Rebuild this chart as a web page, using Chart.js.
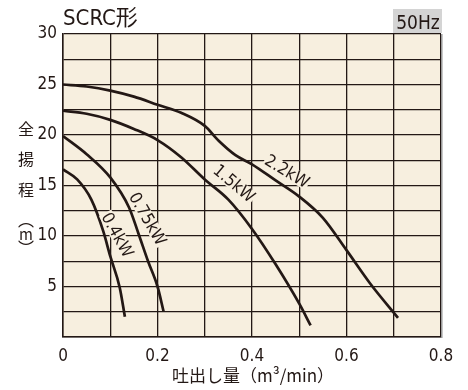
<!DOCTYPE html>
<html><head><meta charset="utf-8">
<script src="https://cdn.jsdelivr.net/npm/chart.js@4/dist/chart.umd.min.js"></script>
<style>html,body{margin:0;padding:0;background:#fff;}#wrap{width:468px;height:390px;position:relative;}</style>
</head><body><div id="wrap"><canvas id="c"></canvas></div>
<script>
// ---- data ----
const chartTitle = 'SCRC形';
const freqLabel = '50Hz';
const xAxisTitle = '吐出し量（m³/min）';
const yAxisTitleChars = ['全', '揚', '程', '︵', 'm', '︶'];
const xTickLabels = [0, 0.2, 0.4, 0.6, 0.8];
const yTickLabels = [5, 10, 15, 20, 25, 30];
const seriesNames = ['0.4kW', '0.75kW', '1.5kW', '2.2kW'];
const flow04 = [0, 0.03, 0.06, 0.085, 0.1, 0.12, 0.131];
const head04 = [16.6, 15.6, 13.6, 10.5, 8.0, 4.9, 2.0];
const flow075 = [0, 0.05, 0.1, 0.14, 0.16, 0.18, 0.2, 0.213];
const head075 = [19.9, 18.1, 15.8, 12.8, 10.2, 7.5, 5.0, 2.5];
const flow15 = [0, 0.05, 0.1, 0.15, 0.2, 0.25, 0.3, 0.35, 0.4, 0.45, 0.5, 0.524];
const head15 = [22.4, 22.1, 21.5, 20.6, 19.5, 17.8, 15.6, 13.6, 10.7, 7.2, 3.3, 1.15];
const flow22 = [0, 0.05, 0.1, 0.15, 0.2, 0.25, 0.3, 0.33, 0.365, 0.4, 0.45, 0.5, 0.55, 0.6, 0.65, 0.709];
const head22 = [25.0, 24.8, 24.4, 23.8, 23.0, 22.2, 20.9, 19.4, 18.0, 17.1, 15.5, 13.9, 11.8, 8.6, 5.3, 1.9];

// ---- label annotation placement (in data units) ----
const labelAt = [
  {x: 0.115, y: 10.1, angle: 61},
  {x: 0.179, y: 11.7, angle: 60},
  {x: 0.362, y: 15.2, angle: 40},
  {x: 0.474, y: 16.4, angle: 31}
];

const INK = '#231815';
const CREAM = '#f7efdf';
const NARROW = "'Liberation Sans Narrow', 'DejaVu Sans Condensed', 'Noto Sans CJK JP', sans-serif";
const CJK = "'Noto Sans CJK JP', sans-serif";

function pts(xs, ys) { return xs.map((x, i) => ({x: x, y: ys[i]})); }
const series = [pts(flow04, head04), pts(flow075, head075), pts(flow15, head15), pts(flow22, head22)];

const near = (arr, v) => arr.some(a => Math.abs(a - v) < 1e-6);

const decor = {
  id: 'decor',
  beforeDraw(chart) {
    const {ctx, chartArea: a} = chart;
    ctx.save();
    ctx.fillStyle = CREAM;
    ctx.fillRect(a.left, a.top, a.right - a.left, a.bottom - a.top);
    ctx.restore();
  },
  afterDatasetsDraw(chart) {
    const {ctx, chartArea: a, scales} = chart;
    ctx.save();
    ctx.strokeStyle = '#9a9a9a';
    ctx.lineWidth = 1.5;
    ctx.beginPath(); ctx.moveTo(a.right + 0.8, a.top); ctx.lineTo(a.right + 0.8, a.bottom + 1); ctx.stroke();
    ctx.font = '17px ' + NARROW;
    ctx.textAlign = 'center'; ctx.textBaseline = 'middle';
    seriesNames.forEach((name, i) => {
      const p = labelAt[i];
      const px = scales.x.getPixelForValue(p.x), py = scales.y.getPixelForValue(p.y);
      const w = ctx.measureText(name).width;
      ctx.save();
      ctx.translate(px, py);
      ctx.rotate(p.angle * Math.PI / 180);
      ctx.fillStyle = CREAM;
      ctx.fillRect(-w / 2 - 1, -7, w + 2, 14);
      ctx.fillStyle = INK;
      ctx.fillText(name, 0, 1);
      ctx.restore();
    });
    ctx.fillStyle = INK;
    ctx.textAlign = 'left'; ctx.textBaseline = 'alphabetic';
    ctx.font = '22px ' + NARROW;
    ctx.fillText(chartTitle, a.left, 25);
    ctx.fillStyle = '#d4d4d4';
    ctx.fillRect(a.right - 48, 9, 49, 24);
    ctx.fillStyle = INK;
    ctx.font = '19px ' + NARROW;
    ctx.textAlign = 'center';
    ctx.fillText(freqLabel, a.right - 23, 29);
    ctx.font = '17px ' + CJK;
    ctx.textBaseline = 'middle';
    ctx.fillText(xAxisTitle, 253, 376);
    const ys = [129, 159, 190, 220, 234, 248];
    yAxisTitleChars.forEach((ch, i) => {
      ctx.font = (ch === 'm' ? '15px ' : '16px ') + CJK;
      ctx.fillText(ch, 26, ys[i]);
    });
    ctx.restore();
  }
};

new Chart(document.getElementById('c'), {
  type: 'scatter',
  data: {
    datasets: series.map((s, i) => ({
      label: seriesNames[i],
      data: s,
      showLine: true,
      borderColor: INK,
      borderWidth: 2.7,
      pointRadius: 0,
      cubicInterpolationMode: 'monotone',
      fill: false
    }))
  },
  options: {
    responsive: true,
    maintainAspectRatio: false,
    animation: false,
    devicePixelRatio: 1,
    layout: {padding: {left: 0, top: 34, right: 27, bottom: 0}},
    plugins: {legend: {display: false}, tooltip: {enabled: false}},
    scales: {
      x: {
        type: 'linear', min: 0, max: 0.8,
        afterFit(s) { s.height = 53; },
        ticks: {
          stepSize: 0.1, autoSkip: false, maxRotation: 0, padding: 9,
          color: INK, font: {family: NARROW, size: 17},
          callback: v => near(xTickLabels, v) ? (Math.round(v * 10) / 10).toString() : ''
        },
        grid: {color: INK, lineWidth: 1.3, drawTicks: false},
        border: {color: INK, width: 1.5}
      },
      y: {
        type: 'linear', min: 0, max: 30,
        afterFit(s) { s.width = 63; },
        ticks: {
          stepSize: 2.5, autoSkip: false, padding: 6,
          color: INK, font: {family: NARROW, size: 17},
          callback: v => near(yTickLabels, v) ? String(Math.round(v)) : ''
        },
        grid: {color: INK, lineWidth: 1.3, drawTicks: false},
        border: {color: INK, width: 1.5}
      }
    }
  },
  plugins: [decor]
});
</script>
</body></html>
